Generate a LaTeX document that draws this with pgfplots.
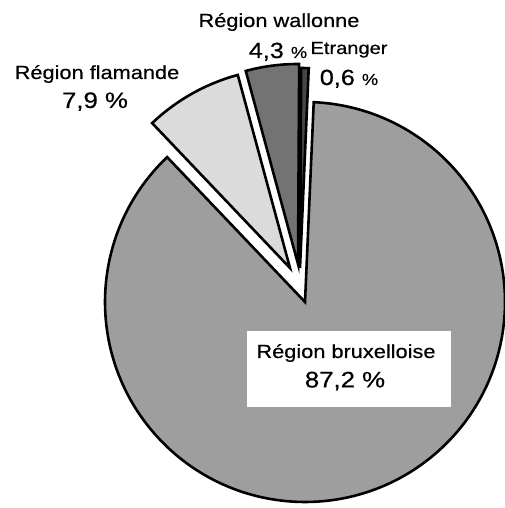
\documentclass[border=0pt]{standalone}
\usepackage{pgfplots}
\pgfplotsset{compat=1.18}
\usepackage{pgfplotstable}
\usepackage{fontspec}
\setmainfont{Liberation Sans}[FakeStretch=1.15, FakeBold=0.5]

% share (%), explode offset dx, dy (in radius units)
\pgfplotstableread{
label      share  dx      dy
Etranger   0.6   -0.025   0.17
Wallonne   4.3   -0.035   0.19
Flamande   7.9   -0.075   0.17
Bruxelles  87.2   0.0     0.0
}\piedata

\pgfplotstablegetelem{0}{share}\of\piedata \let\sA\pgfplotsretval
\pgfplotstablegetelem{1}{share}\of\piedata \let\sB\pgfplotsretval
\pgfplotstablegetelem{2}{share}\of\piedata \let\sC\pgfplotsretval
\pgfplotstablegetelem{3}{share}\of\piedata \let\sD\pgfplotsretval
\pgfplotstablegetelem{0}{dx}\of\piedata \let\xA\pgfplotsretval
\pgfplotstablegetelem{1}{dx}\of\piedata \let\xB\pgfplotsretval
\pgfplotstablegetelem{2}{dx}\of\piedata \let\xC\pgfplotsretval
\pgfplotstablegetelem{3}{dx}\of\piedata \let\xD\pgfplotsretval
\pgfplotstablegetelem{0}{dy}\of\piedata \let\yA\pgfplotsretval
\pgfplotstablegetelem{1}{dy}\of\piedata \let\yB\pgfplotsretval
\pgfplotstablegetelem{2}{dy}\of\piedata \let\yC\pgfplotsretval
\pgfplotstablegetelem{3}{dy}\of\piedata \let\yD\pgfplotsretval

\pgfmathsetmacro\aA{87.5}
\pgfmathsetmacro\bA{\aA+3.6*\sA}
\pgfmathsetmacro\bB{\bA+3.6*\sB}
\pgfmathsetmacro\bC{\bB+3.6*\sC}
\pgfmathsetmacro\bD{\bC+3.6*\sD}

\newcommand{\pieslice}[5]{% fill, dx, dy, start, end
  \filldraw[overlay, fill=#1, draw=black, line width=2.6bp, line join=miter]
    (axis cs:#2,#3) -- (axis cs:{#2+cos(#4)},{#3+sin(#4)})
    arc[start angle=#4, end angle=#5, radius=200bp] -- cycle;}

\begin{document}
\begin{tikzpicture}
\begin{axis}[hide axis, scale only axis, width=505bp, height=508bp,
  xmin=-1.525, xmax=1.0, ymin=-1.03, ymax=1.51, clip=false]
\pieslice{black!38}{\xD}{\yD}{\bC}{\bD}
\pieslice{black!14}{\xC}{\yC}{\bB}{\bC}
\pieslice{black!55}{\xB}{\yB}{\bA}{\bB}
\pieslice{black!72}{\xA}{\yA}{\aA}{\bA}

\node[fill=white, minimum width=204bp, minimum height=76bp, inner sep=0pt]
  at (axis cs:0.22,-0.335) {};
\node[anchor=base, font=\fontsize{19}{22}\selectfont] at (axis cs:0.205,-0.28) {Région bruxelloise};
\node[anchor=base, font=\fontsize{22.5}{26}\selectfont] at (axis cs:0.2,-0.427) {87,2 \%};

\node[anchor=base, font=\fontsize{19}{22}\selectfont] at (axis cs:-1.04,1.115) {Région flamande};
\node[anchor=base, font=\fontsize{22.5}{26}\selectfont] at (axis cs:-1.05,0.97) {7,9 \%};

\node[anchor=base, font=\fontsize{19}{22}\selectfont] at (axis cs:-0.13,1.375) {Région wallonne};
\node[anchor=base, font=\fontsize{22}{26}\selectfont] at (axis cs:-0.135,1.22) {4,3 {\fontsize{16}{18}\selectfont\%}};

\node[anchor=base, font=\fontsize{17.5}{20}\selectfont] at (axis cs:0.22,1.24) {Etranger};
\node[anchor=base, font=\fontsize{22}{26}\selectfont] at (axis cs:0.22,1.085) {0,6 {\fontsize{16}{18}\selectfont\%}};
\end{axis}
\path (current axis.south west) rectangle (current axis.north east);
\end{tikzpicture}
\end{document}
